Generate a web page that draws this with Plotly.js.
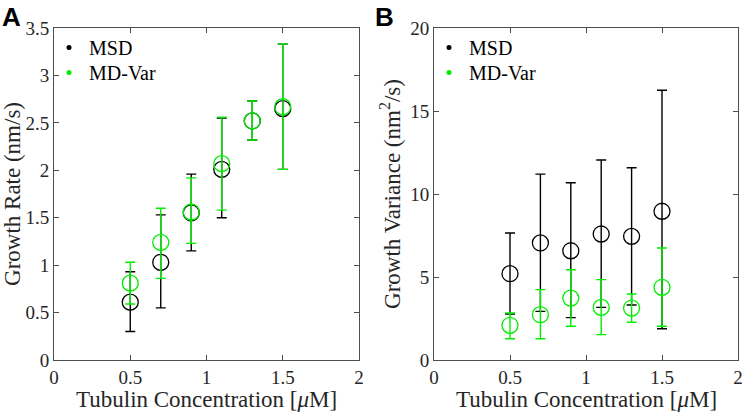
<!DOCTYPE html>
<html>
<head>
<meta charset="utf-8">
<script src="https://cdn.plot.ly/plotly-3.0.1.min.js"></script>
<style>html,body{margin:0;padding:0;background:#fff}#chart{width:742px;height:416px}</style>
</head>
<body>
<div id="chart"></div>
<script>
// Tubulin concentrations (µM)
const concMSD = [0.5, 0.7, 0.9, 1.1, 1.3, 1.5];
const concVar = [0.5, 0.7, 0.9, 1.1, 1.3, 1.5];

// Panel A: growth rate (nm/s)
const rateMSD      = [0.61, 1.03, 1.55, 2.01, 2.52, 2.65];
const rateMSDUp    = [0.93, 1.53, 1.96, 2.55, 2.73, 3.33];
const rateMSDLow   = [0.30, 0.55, 1.15, 1.50, 2.32, 2.01];
const rateVar      = [0.81, 1.24, 1.56, 2.07, 2.52, 2.67];
const rateVarUp    = [1.03, 1.60, 1.92, 2.56, 2.73, 3.33];
const rateVarLow   = [0.59, 0.86, 1.23, 1.58, 2.32, 2.01];

// Panel B: growth variance (nm^2/s)
const varMSD       = [5.2, 7.05, 6.58, 7.59, 7.45, 8.96];
const varMSDUp     = [7.65, 11.2, 10.68, 12.05, 11.58, 16.25];
const varMSDLow    = [2.77, 2.93, 2.55, 3.17, 3.31, 1.88];
const varVar       = [2.09, 2.73, 3.73, 3.17, 3.13, 4.38];
const varVarUp     = [2.83, 4.24, 5.44, 4.84, 3.98, 6.75];
const varVarLow    = [1.28, 1.28, 2.03, 1.53, 2.27, 2.03];

const xTicks = [0, 0.5, 1, 1.5, 2];
const xTickText = ['0', '0.5', '1', '1.5', '2'];
const yTicksA = [0, 0.5, 1, 1.5, 2, 2.5, 3, 3.5];
const yTickTextA = ['0', '0.5', '1', '1.5', '2', '2.5', '3', '3.5'];
const yTicksB = [0, 5, 10, 15, 20];
const yTickTextB = ['0', '5', '10', '15', '20'];

const xTitle = 'Tubulin Concentration [<i>μ</i>M]';

const BLACK = '#000000';
const GREEN = '#00ee00';
const SERIF = "'Liberation Serif', 'Times New Roman', serif";

function diff(a, b) { return a.map((v, i) => v - b[i]); }

function trace(x, y, up, low, color, name, xa, ya) {
  return {
    type: 'scatter', mode: 'markers', x: x, y: y, name: name,
    xaxis: xa, yaxis: ya, showlegend: false,
    marker: { symbol: 'circle-open', size: 16, color: color, line: { width: 1.3, color: color } },
    error_y: { type: 'data', symmetric: false, array: diff(up, y), arrayminus: diff(y, low),
               color: color, thickness: 1.4, width: 5 }
  };
}
// legend-only entries (no data points)
function legendEntry(color, name, xa, ya, legend) {
  return {
    type: 'scatter', mode: 'markers', x: [null], y: [null], name: name,
    xaxis: xa, yaxis: ya, showlegend: true, legend: legend,
    marker: { symbol: 'circle', size: 5, color: color }
  };
}

const data = [
  trace(concMSD, rateMSD, rateMSDUp, rateMSDLow, BLACK, 'MSD', 'x', 'y'),
  trace(concVar, rateVar, rateVarUp, rateVarLow, GREEN, 'MD-Var', 'x', 'y'),
  trace(concMSD, varMSD, varMSDUp, varMSDLow, BLACK, 'MSD', 'x2', 'y2'),
  trace(concVar, varVar, varVarUp, varVarLow, GREEN, 'MD-Var', 'x2', 'y2'),
  legendEntry(BLACK, 'MSD', 'x', 'y', 'legend'),
  legendEntry(GREEN, 'MD-Var', 'x', 'y', 'legend2'),
  legendEntry(BLACK, 'MSD', 'x2', 'y2', 'legend3'),
  legendEntry(GREEN, 'MD-Var', 'x2', 'y2', 'legend4')
];

const axisCol = '#4d4d4d';
const tickFont = { family: SERIF, size: 19, color: '#262626' };
const titleFont = { family: SERIF, size: 23, color: '#262626' };

function xaxis(domain, anchor) {
  return {
    domain: domain, anchor: anchor, range: [0, 2], tickvals: xTicks, ticktext: xTickText,
    ticks: 'inside', ticklen: 5, tickcolor: axisCol, showline: true, linecolor: axisCol, linewidth: 1,
    mirror: 'ticks', showgrid: false, zeroline: false, tickfont: tickFont, ticklabeloverflow: 'allow'
  };
}
function yaxis(domain, anchor, range, vals, text, title) {
  return {
    domain: domain, anchor: anchor, range: range, tickvals: vals, ticktext: text,
    ticks: 'inside', ticklen: 5, tickcolor: axisCol, showline: true, linecolor: axisCol, linewidth: 1,
    mirror: 'ticks', showgrid: false, zeroline: false, tickfont: tickFont, ticklabeloverflow: 'allow',
    title: { text: title, font: titleFont, standoff: 3 }
  };
}

function legendBox(px, py) {
  return {
    x: px / 742, y: 1 - py / 416, xanchor: 'left', yanchor: 'top', bgcolor: 'rgba(0,0,0,0)',
    font: { family: SERIF, size: 20, color: '#000' }, itemwidth: 30
  };
}

const xDomA = [54 / 742, 359 / 742];
const xDomB = [434 / 742, 738 / 742];
const yDom = [1 - 360 / 416, 1 - 28 / 416];
const layout = {
  width: 742, height: 416,
  margin: { l: 0, r: 0, t: 0, b: 0 },
  paper_bgcolor: '#ffffff', plot_bgcolor: '#ffffff',
  xaxis: xaxis(xDomA, 'y'),
  yaxis: yaxis(yDom, 'x', [0, 3.5], yTicksA, yTickTextA, 'Growth Rate (nm/s)'),
  xaxis2: xaxis(xDomB, 'y2'),
  yaxis2: yaxis(yDom, 'x2', [0, 20], yTicksB, yTickTextB, 'Growth Variance (nm<sup>2</sup>/s)'),
  legend: legendBox(49, 28),
  legend2: legendBox(49, 53),
  legend3: legendBox(429, 28),
  legend4: legendBox(429, 53),
  annotations: [
    { text: xTitle, xref: 'paper', yref: 'paper', x: (xDomA[0] + xDomA[1]) / 2, y: 1 - 399 / 416,
      xanchor: 'center', yanchor: 'middle', showarrow: false, font: titleFont },
    { text: xTitle, xref: 'paper', yref: 'paper', x: (xDomB[0] + xDomB[1]) / 2, y: 1 - 399 / 416,
      xanchor: 'center', yanchor: 'middle', showarrow: false, font: titleFont },
    { text: '<b>A</b>', xref: 'paper', yref: 'paper', x: 0 / 742, y: 1, xanchor: 'left', yanchor: 'top',
      showarrow: false, font: { family: 'Liberation Sans, Arial, sans-serif', size: 26, color: '#000' } },
    { text: '<b>B</b>', xref: 'paper', yref: 'paper', x: 373 / 742, y: 1, xanchor: 'left', yanchor: 'top',
      showarrow: false, font: { family: 'Liberation Sans, Arial, sans-serif', size: 26, color: '#000' } }
  ]
};

Plotly.newPlot('chart', data, layout, { displayModeBar: false, staticPlot: true });
</script>
</body>
</html>
